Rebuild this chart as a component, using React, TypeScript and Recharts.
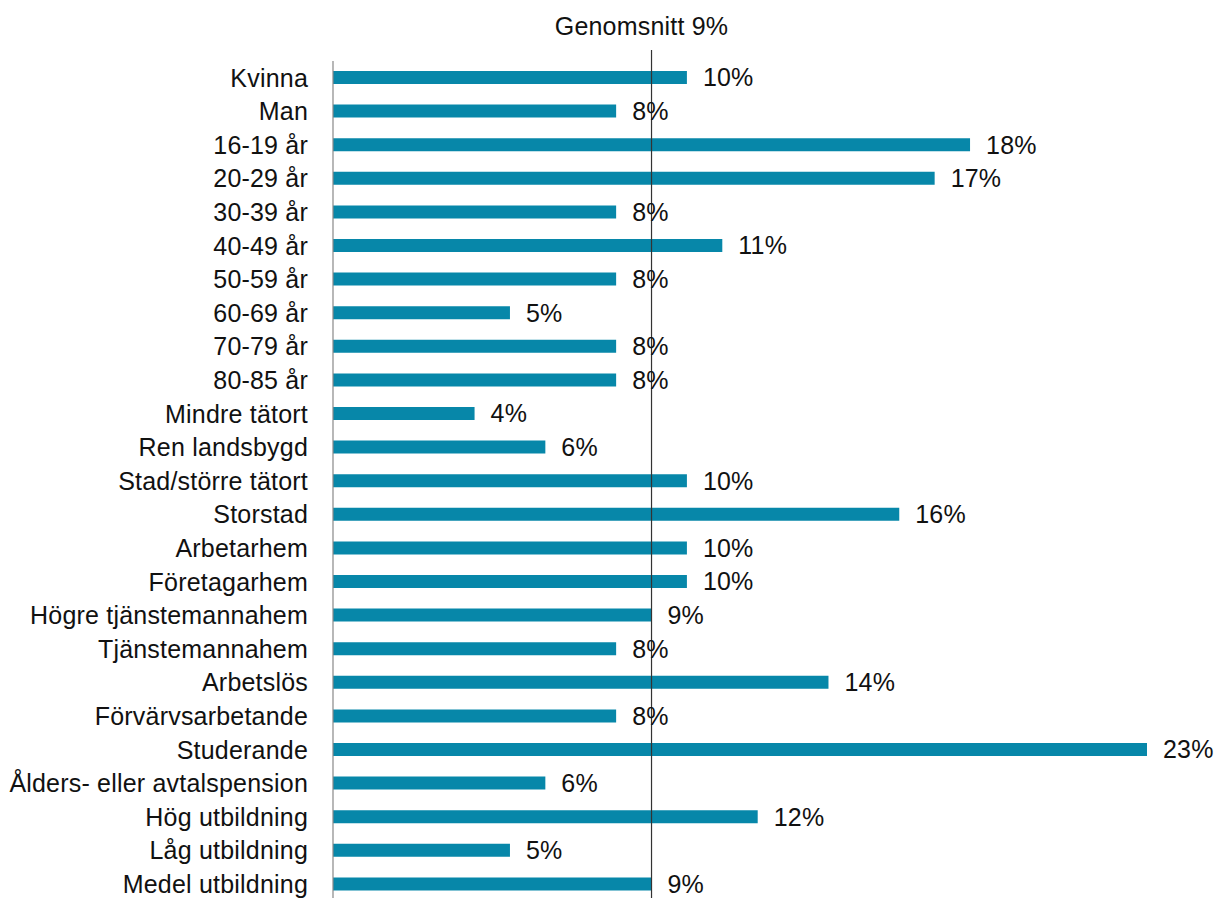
import React from "react";
import {
    BarChart,
    Bar,
    XAxis,
    YAxis,
    ReferenceLine,
    LabelList,
} from "recharts";

const categories = [
    "Kvinna",
    "Man",
    "16-19 år",
    "20-29 år",
    "30-39 år",
    "40-49 år",
    "50-59 år",
    "60-69 år",
    "70-79 år",
    "80-85 år",
    "Mindre tätort",
    "Ren landsbygd",
    "Stad/större tätort",
    "Storstad",
    "Arbetarhem",
    "Företagarhem",
    "Högre tjänstemannahem",
    "Tjänstemannahem",
    "Arbetslös",
    "Förvärvsarbetande",
    "Studerande",
    "Ålders- eller avtalspension",
    "Hög utbildning",
    "Låg utbildning",
    "Medel utbildning",
];

const values = [10, 8, 18, 17, 8, 11, 8, 5, 8, 8, 4, 6, 10, 16, 10, 10, 9, 8, 14, 8, 23, 6, 12, 5, 9];

const average = 9;
const averageLabel = "Genomsnitt 9%";

const data = categories.map((name, i) => ({ name, value: values[i] }));

const FONT = "'Liberation Sans', Arial, Helvetica, sans-serif";
const BAR_COLOR = "#0787a9";
const TEXT_STYLE = { fill: "#111", fontSize: 25, fontFamily: FONT, letterSpacing: 0.2 };

// reference line drawn a bit above the plot top, with its caption
const AverageLine = (props: any) => {
    const { x1, y1, y2 } = props;
    const top = Math.min(y1, y2);
    const bottom = Math.max(y1, y2);
    return (
        <g>
            <line x1={x1} y1={top - 11} x2={x1} y2={bottom} stroke="#333" strokeWidth={1.2} />
            <text x={x1 - 10} y={top - 26} textAnchor="middle" style={TEXT_STYLE}>
                {averageLabel}
            </text>
        </g>
    );
};

export default function App() {
    return (
        <div style={{ position: "absolute", left: 0, top: 0, width: 1220, height: 898, overflow: "hidden", background: "#fff" }}>
            <BarChart
                width={1220}
                height={902}
                data={data}
                layout="vertical"
                margin={{ top: 61, right: 73, bottom: 1, left: 0 }}
                barCategoryGap={0}
            >
                <XAxis type="number" domain={[0, 23]} hide />
                <YAxis
                    type="category"
                    dataKey="name"
                    width={333}
                    interval={0}
                    tickLine={false}
                    tickSize={0}
                    tickMargin={25}
                    axisLine={{ stroke: "#888", strokeWidth: 1.2 }}
                    tick={TEXT_STYLE}
                />
                <Bar dataKey="value" fill={BAR_COLOR} barSize={13} isAnimationActive={false}>
                    <LabelList
                        dataKey="value"
                        position="right"
                        offset={16}
                        formatter={(v: any) => `${v}%`}
                        style={TEXT_STYLE}
                    />
                </Bar>
                <ReferenceLine x={average} shape={AverageLine} ifOverflow="visible" />
            </BarChart>
        </div>
    );
}
